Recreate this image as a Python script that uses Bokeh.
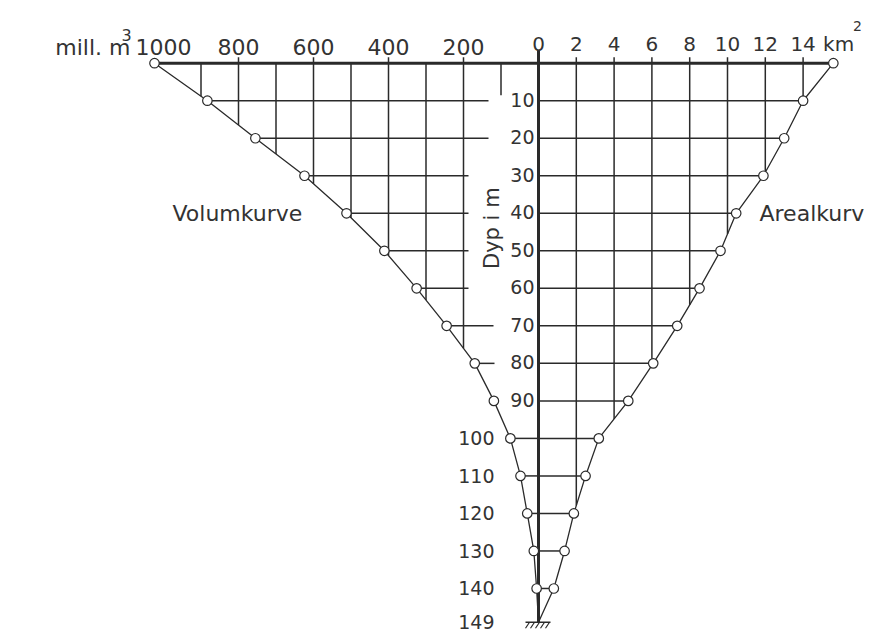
import numpy as np
from bokeh.plotting import figure
from bokeh.models import Range1d
from bokeh.core.properties import value
from bokeh.embed import file_html
from bokeh.resources import INLINE

# ---------------- data ----------------
depth = [0, 10, 20, 30, 40, 50, 60, 70, 80, 90, 100, 110, 120, 130, 140, 149]
volume = [1024, 883, 755, 624, 512, 411, 325, 245, 170, 119, 75, 48, 30, 12.5, 5, 0]   # mill. m3
area = [15.6, 14.0, 13.0, 11.9, 10.46, 9.63, 8.52, 7.34, 6.07, 4.75, 3.19, 2.49, 1.87, 1.38, 0.81, 0]  # km2

vol_ticks = [1000, 800, 600, 400, 200]
vol_tick_labels = ["1000", "800", "600", "400", "200"]
vol_grid = [900, 800, 700, 600, 500, 400, 300, 200]
area_ticks = [0, 2, 4, 6, 8, 10, 12, 14]
area_tick_labels = ["0", "2", "4", "6", "8", "10", "12", "14"]
area_grid = [2, 4, 6, 8, 10, 12, 14]
upper_depths = [10, 20, 30, 40, 50, 60, 70, 80, 90]
upper_depth_labels = ["10", "20", "30", "40", "50", "60", "70", "80", "90"]
lower_depths = [100, 110, 120, 130, 140, 149]
lower_depth_labels = ["100", "110", "120", "130", "140", "149"]

# ---------------- layout / scales ----------------
W, H = 879, 636
AX_PX = 538.0      # pixel x of the depth axis inside the canvas
TOP_PX = 62.7      # pixel y of depth 0 inside the canvas
PX_AREA = 18.9     # px per km2
PX_VOL = 0.375     # px per mill. m3
PX_DEPTH = 3.752   # px per m

INK = "#2a2a2a"
TXT = "#333333"
FONT = value("DejaVu Sans")

p = figure(width=W, height=H, output_backend="svg", toolbar_location=None,
           x_axis_location=None, y_axis_location=None,
           x_range=Range1d(-AX_PX / PX_AREA, (W - AX_PX) / PX_AREA),
           y_range=Range1d((H - TOP_PX) / PX_DEPTH, -TOP_PX / PX_DEPTH),
           min_border=0, min_border_left=0, min_border_right=0,
           min_border_top=0, min_border_bottom=0)
p.extra_x_ranges = {"vol": Range1d(AX_PX / PX_VOL, -(W - AX_PX) / PX_VOL)}
p.outline_line_color = None
p.grid.visible = False
p.background_fill_color = "white"
p.border_fill_color = "white"

d = np.array(depth, dtype=float)
v = np.array(volume, dtype=float)
a = np.array(area, dtype=float)

def depth_at_area(x):
    return float(np.interp(x, a[::-1], d[::-1]))

def depth_at_vol(x):
    return float(np.interp(x, v[::-1], d[::-1]))

tick_up = 6.0 / PX_DEPTH

# ---- right side grid (area) ----
for g in area_grid:
    p.segment(x0=[g], y0=[-tick_up], x1=[g], y1=[depth_at_area(g)], line_color=INK, line_width=1.5)
for dd in upper_depths:
    i = depth.index(dd)
    p.segment(x0=[0], y0=[dd], x1=[area[i]], y1=[dd], line_color=INK, line_width=1.5)
for dd in lower_depths[:-1]:
    i = depth.index(dd)
    p.segment(x0=[0], y0=[dd], x1=[area[i]], y1=[dd], line_color=INK, line_width=1.5)
    p.segment(x0=[volume[i]], y0=[dd], x1=[0], y1=[dd], line_color=INK, line_width=1.5, x_range_name="vol")

# ---- left side grid (volume) ----
for g in vol_grid:
    top = -tick_up if g in vol_ticks else 0
    p.segment(x0=[g], y0=[top], x1=[g], y1=[depth_at_vol(g)], line_color=INK, line_width=1.5, x_range_name="vol")
# short stub at 100
p.segment(x0=[100], y0=[0], x1=[100], y1=[32.0 / PX_DEPTH], line_color=INK, line_width=1.5, x_range_name="vol")
gap_end = {10: 50, 20: 50, 30: 70, 40: 70, 50: 70, 60: 70, 70: 45, 80: 44}  # px left of axis where lines stop
for dd, gp in gap_end.items():
    i = depth.index(dd)
    p.segment(x0=[volume[i]], y0=[dd], x1=[gp / PX_VOL], y1=[dd], line_color=INK, line_width=1.5, x_range_name="vol")

# ---- top line and main axis ----
p.segment(x0=[volume[0]], y0=[0], x1=[0], y1=[0], line_color=INK, line_width=3, x_range_name="vol")
p.segment(x0=[0], y0=[0], x1=[area[0]], y1=[0], line_color=INK, line_width=3)
p.segment(x0=[0], y0=[-13.0 / PX_DEPTH], x1=[0], y1=[149], line_color=INK, line_width=3)

# ---- curves ----
p.line(x=area, y=depth, line_color=INK, line_width=1.3)
p.line(x=volume, y=depth, line_color=INK, line_width=1.3, x_range_name="vol")
p.scatter(x=area[:-1], y=depth[:-1], size=9.5, fill_color="white", line_color=INK, line_width=1.2)
p.scatter(x=volume[:-1], y=depth[:-1], size=9.5, fill_color="white", line_color=INK, line_width=1.2,
          x_range_name="vol")

# ---- ground symbol at the bottom ----
p.segment(x0=[-13.0 / PX_AREA], y0=[149], x1=[12.0 / PX_AREA], y1=[149], line_color=INK, line_width=1.5)
hx = np.arange(-9, 14, 5) / PX_AREA
p.segment(x0=hx, y0=[149] * len(hx), x1=hx - 4.0 / PX_AREA, y1=[149 + 6.0 / PX_DEPTH] * len(hx),
          line_color=INK, line_width=1.2)

# ---- texts ----
p.text(x=vol_ticks, y=[0] * len(vol_ticks), text=vol_tick_labels, x_range_name="vol",
       text_align="center", text_baseline="alphabetic", y_offset=-16,
       text_font=FONT, text_font_size=value("22px"), text_color=TXT)
p.text(x=area_ticks, y=[0] * len(area_ticks), text=area_tick_labels,
       text_align="center", text_baseline="alphabetic", y_offset=-19,
       text_font=FONT, text_font_size=value("20px"), text_color=TXT)
p.text(x=[1000], y=[0], text=["mill. m"], x_range_name="vol", x_offset=-33, y_offset=-16,
       text_align="right", text_baseline="alphabetic",
       text_font=FONT, text_font_size=value("22px"), text_color=TXT)
p.text(x=[1000], y=[0], text=["3"], x_range_name="vol", x_offset=-42, y_offset=-28,
       text_align="left", text_baseline="alphabetic",
       text_font=FONT, text_font_size=value("16px"), text_color=TXT)
p.text(x=[14], y=[0], text=["km"], x_offset=20, y_offset=-19,
       text_align="left", text_baseline="alphabetic",
       text_font=FONT, text_font_size=value("20px"), text_color=TXT)
p.text(x=[14], y=[0], text=["2"], x_offset=50, y_offset=-37,
       text_align="left", text_baseline="alphabetic",
       text_font=FONT, text_font_size=value("14px"), text_color=TXT)

p.text(x=[0] * len(upper_depths), y=upper_depths, text=upper_depth_labels, x_offset=-4, y_offset=-1,
       text_align="right", text_baseline="alphabetic",
       text_font=FONT, text_font_size=value("19px"), text_color=TXT)
p.text(x=[0] * len(lower_depths), y=lower_depths, text=lower_depth_labels, x_offset=-44, y_offset=0,
       text_align="right", text_baseline="alphabetic",
       text_font=FONT, text_font_size=value("19px"), text_color=TXT)

p.text(x=[0], y=[40], text=["Volumkurve"], x_range_name="vol", x_offset=-366, y_offset=0,
       text_align="left", text_baseline="alphabetic",
       text_font=FONT, text_font_size=value("22px"), text_color=TXT)
p.text(x=[0], y=[40], text=["Arealkurv"], x_offset=221, y_offset=0,
       text_align="left", text_baseline="alphabetic",
       text_font=FONT, text_font_size=value("22px"), text_color=TXT)
p.text(x=[0], y=[0], text=["Dyp i m"], x_offset=-47, y_offset=165,
       angle=np.pi / 2, text_align="center", text_baseline="middle",
       text_font=FONT, text_font_size=value("21px"), text_color=TXT)

open("out.html", "w").write(file_html(p, INLINE))
